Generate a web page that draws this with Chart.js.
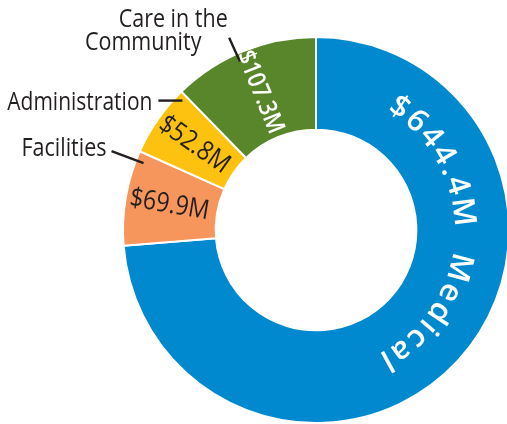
<!DOCTYPE html>
<html lang="en">
<head>
<meta charset="UTF-8">
<title>Spending by area</title>
<script src="https://cdn.jsdelivr.net/npm/chart.js@4.4.1/dist/chart.umd.min.js"></script>
<style>
  html, body { margin: 0; padding: 0; background: #fff; overflow: hidden; }
  #wrap { width: 520px; height: 424px; }
</style>
</head>
<body>
<div id="wrap"><canvas id="spend" width="520" height="424"></canvas></div>
<script>
// spending in $M, clockwise from the top
const areas = ['Medical', 'Facilities', 'Administration', 'Care in the Community'];
const spend = [644.4, 69.9, 52.8, 107.3];
const valueLabels = ['$644.4M', '$69.9M', '$52.8M', '$107.3M'];
const colours = ['#0089cf', '#f7965c', '#fdc20f', '#5a862b'];

const ink = '#231f20';
const FONT = '"Open Sans", "Noto Sans", sans-serif';

// degrees clockwise from 12 o'clock -> canvas point
function polar(arc, deg, r) {
  const a = (deg - 90) * Math.PI / 180;
  return [arc.x + r * Math.cos(a), arc.y + r * Math.sin(a)];
}
function degs(arc) {
  return [arc.startAngle * 180 / Math.PI + 90, arc.endAngle * 180 / Math.PI + 90];
}
// myriad is narrower than anything installed, so squeeze a bit
function squeezed(ctx, txt, x, y, sx) {
  ctx.save();
  ctx.translate(x, y);
  ctx.scale(sx, 1);
  ctx.fillText(txt, 0, 0);
  ctx.restore();
}

// text running round the ring, letters standing outward
function ringText(ctx, arc, txt, midDeg, r, font, span) {
  ctx.save();
  ctx.font = font;
  ctx.fillStyle = '#fff';
  ctx.textAlign = 'center';
  ctx.textBaseline = 'middle';
  const w = [...txt].map(c => ctx.measureText(c).width);
  const n = w.length;
  const total = w.reduce((a, b) => a + b, 0);
  const arcLen = span * Math.PI / 180 * r;
  const gap = (arcLen - (total - w[0] / 2 - w[n - 1] / 2)) / (n - 1);
  let pos = -arcLen / 2;
  [...txt].forEach((c, i) => {
    const d = midDeg + pos / r * 180 / Math.PI;
    const [x, y] = polar(arc, d, r);
    ctx.save();
    ctx.translate(x, y);
    ctx.rotate(d * Math.PI / 180);
    ctx.fillText(c, 0, 0);
    ctx.restore();
    if (i < n - 1) pos += w[i] / 2 + gap + w[i + 1] / 2;
  });
  ctx.restore();
}

// text laid along the radius, reading inward
function radialText(ctx, arc, txt, deg, r, font, colour) {
  const [x, y] = polar(arc, deg, r);
  ctx.save();
  ctx.translate(x, y);
  ctx.rotate((deg + 90) * Math.PI / 180);
  ctx.font = font;
  ctx.fillStyle = colour;
  ctx.textAlign = 'center';
  ctx.textBaseline = 'middle';
  squeezed(ctx, txt, 0, 0, 0.86);
  ctx.restore();
}

const labelPlugin = {
  id: 'ringLabels',
  afterDraw(chart) {
    const ctx = chart.ctx;
    const arcs = chart.getDatasetMeta(0).data;
    const mid = (arcs[0].innerRadius + arcs[0].outerRadius) / 2;
    const outer = arcs[0].outerRadius;

    // Medical: curved white text
    const [m0, m1] = degs(arcs[0]);
    ringText(ctx, arcs[0], valueLabels[0] + '  ' + areas[0], m0 + 0.35 * (m1 - m0), mid + 1,
      '600 31px ' + FONT, 117);

    // the three small slices
    const styles = [null,
      ['27px ' + FONT, ink],
      ['27px ' + FONT, ink],
      ['600 25px ' + FONT, '#fff']];
    for (let i = 1; i < arcs.length; i++) {
      const [a, b] = degs(arcs[i]);
      radialText(ctx, arcs[i], valueLabels[i], (a + b) / 2, mid + 2, styles[i][0], styles[i][1]);
    }

    ctx.save();
    ctx.strokeStyle = ink;
    ctx.fillStyle = ink;
    ctx.lineWidth = 2.4;
    ctx.font = '25px ' + FONT;
    ctx.textBaseline = 'alphabetic';

    // Facilities
    let [a, b] = degs(arcs[1]);
    let [x, y] = polar(arcs[1], a + 0.9 * (b - a), outer - 8);
    ctx.beginPath(); ctx.moveTo(x, y); ctx.lineTo(x - 32, y - 12); ctx.stroke();
    ctx.textAlign = 'right';
    squeezed(ctx, areas[1], x - 37, y - 7, 0.86);

    // Administration
    [a, b] = degs(arcs[2]);
    [x, y] = polar(arcs[2], a + 0.92 * (b - a), outer - 7);
    ctx.beginPath(); ctx.moveTo(x, y); ctx.lineTo(x - 24, y); ctx.stroke();
    squeezed(ctx, areas[2], x - 30, y + 9, 0.84);

    // Care in the Community
    [a, b] = degs(arcs[3]);
    const d = a + 0.45 * (b - a);
    [x, y] = polar(arcs[3], d, outer - 8);
    const [x2, y2] = polar(arcs[3], d, outer + 18);
    ctx.beginPath(); ctx.moveTo(x, y); ctx.lineTo(x2, y2); ctx.stroke();
    ctx.textAlign = 'center';
    squeezed(ctx, 'Care in the', x2 - 56, y2 - 11, 0.86);
    squeezed(ctx, 'Community', x2 - 86, y2 + 12, 0.86);
    ctx.restore();
  }
};

new Chart(document.getElementById('spend'), {
  type: 'doughnut',
  data: {
    labels: areas,
    datasets: [{
      data: spend,
      backgroundColor: colours,
      borderColor: '#fff',
      borderWidth: 2
    }]
  },
  options: {
    responsive: false,
    animation: false,
    cutout: '52%',
    layout: { padding: { left: 122, right: 10, top: 36, bottom: 0 } },
    plugins: {
      legend: { display: false },
      tooltip: { enabled: false }
    }
  },
  plugins: [labelPlugin]
});
</script>
</body>
</html>
